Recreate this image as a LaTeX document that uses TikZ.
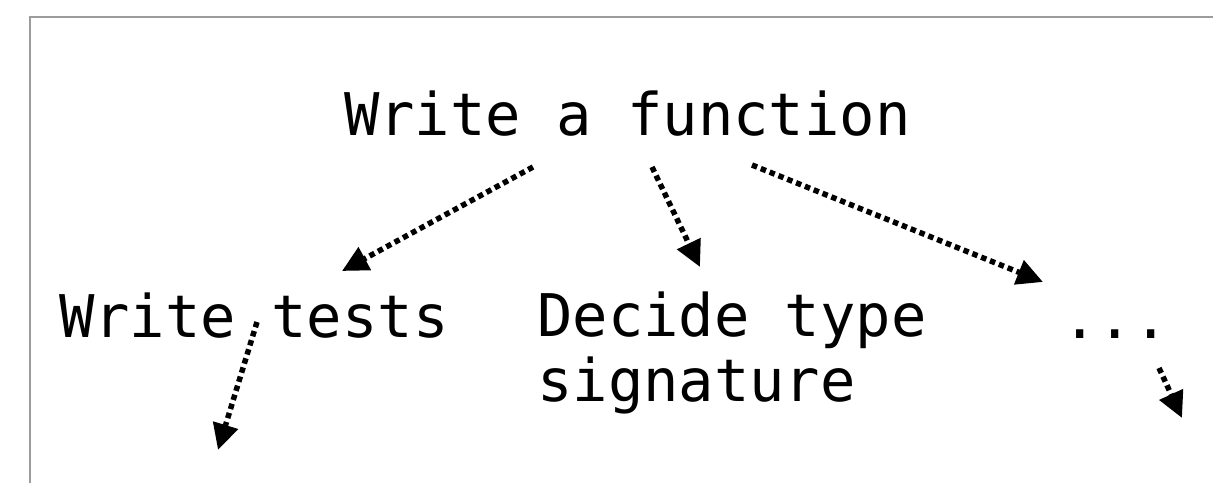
\documentclass[tikz,border=0pt]{standalone}
\usepackage{fontspec}
\setmonofont{DejaVu Sans Mono}
\usetikzlibrary{arrows.meta,calc}
\definecolor{framegray}{HTML}{9C9C9C}
\tikzset{
  label text/.style={inner sep=0pt, anchor=base west, font=\ttfamily\fontsize{58.8}{65}\selectfont},
  flow/.style={line width=5.5pt, dash pattern=on 5.5pt off 4pt,
    -{Triangle[length=26pt,width=25pt]}},
}
\begin{document}
\begin{tikzpicture}[x=1pt,y=-1pt]
  \useasboundingbox (0,0) rectangle (1213,482);
  % open frame (top and left edges)
  \draw[framegray, line width=2pt] (30,490) -- (30,17) -- (1220,17);

  % labels (a multi-line label sits on the baseline of its last line)
  \node[label text] (top)   at (344,135) {Write a function};
  \node[label text] (tests) at (59,337)  {Write tests};
  \node[label text, align=left] (sig) at (537,401) {Decide type\\signature};
  \node[label text] (more)  at (1062,338) {...};

  % arrow end points, placed relative to the labels
  \coordinate (a1s) at ($(top.base west)+(189,32)$);
  \coordinate (a1e) at ($(tests.base west)+(283,-66)$);
  \coordinate (a2s) at ($(top.base west)+(308,32)$);
  \coordinate (a2e) at ($(sig.base west)+(163,-134)$);
  \coordinate (a3s) at ($(top.base west)+(408,30)$);
  \coordinate (a3e) at ($(more.base west)+(-19,-56)$);
  \coordinate (a4s) at ($(tests.base west)+(198,-15)$);
  \coordinate (a4e) at ($(tests.base west)+(159,113)$);
  \coordinate (a5s) at ($(more.base west)+(97,30)$);
  \coordinate (a5e) at ($(more.base west)+(120,80)$);

  % connectors
  \draw[flow] (a1s) -- (a1e);
  \draw[flow] (a2s) -- (a2e);
  \draw[flow] (a3s) -- (a3e);
  \draw[flow] (a4s) -- (a4e);
  \draw[flow] (a5s) -- (a5e);
\end{tikzpicture}
\end{document}
